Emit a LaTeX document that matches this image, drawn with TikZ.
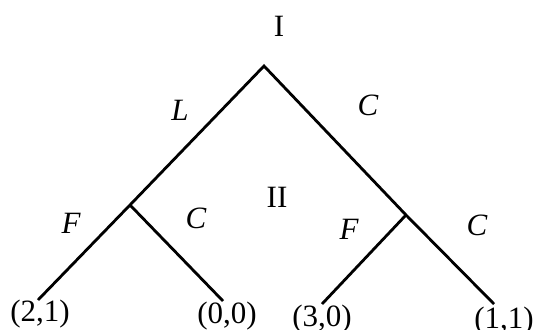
\documentclass[tikz,border=0pt]{standalone}
\usepackage{fontspec}
\setmainfont{Liberation Serif}
\begin{document}
\begin{tikzpicture}[x=1pt,y=-1pt,
  edge/.style={line width=2.8pt},
  lbl/.style={font=\fontsize{31}{31}\selectfont, inner sep=0pt, anchor=center},
  ilbl/.style={lbl, font=\fontsize{31}{31}\selectfont\itshape},
  pay/.style={lbl, anchor=base}]
\useasboundingbox (0,0) rectangle (537,329);
\coordinate (r) at (264,66);
\coordinate (a) at (130,205);
\coordinate (b) at (406,215);
\coordinate (l1) at (38,300);
\coordinate (l2) at (223,301);
\coordinate (l3) at (322,304);
\coordinate (l4) at (494,304);
\draw[edge] (l1) -- (a) -- (r) -- (b) -- (l4);
\draw[edge] (a) -- (l2);
\draw[edge] (b) -- (l3);
\node[lbl] (tI) at (279,26) {I};
\node[lbl] (tII) at (277,197) {II};
\node[ilbl] (tL) at (180,110) {L};
\node[ilbl] (tC1) at (368,105) {C};
\node[ilbl] (tF1) at (71,223) {F};
\node[ilbl] (tC2) at (196,218) {C};
\node[ilbl] (tF2) at (349,229) {F};
\node[ilbl] (tC3) at (477,225) {C};
\node[pay] (p1) at (40,321) {(2,1)};
\node[pay] (p2) at (227,323) {(0,0)};
\node[pay] (p3) at (322,326) {(3,0)};
\node[pay] (p4) at (504,328) {(1,1)};
\end{tikzpicture}
\end{document}
